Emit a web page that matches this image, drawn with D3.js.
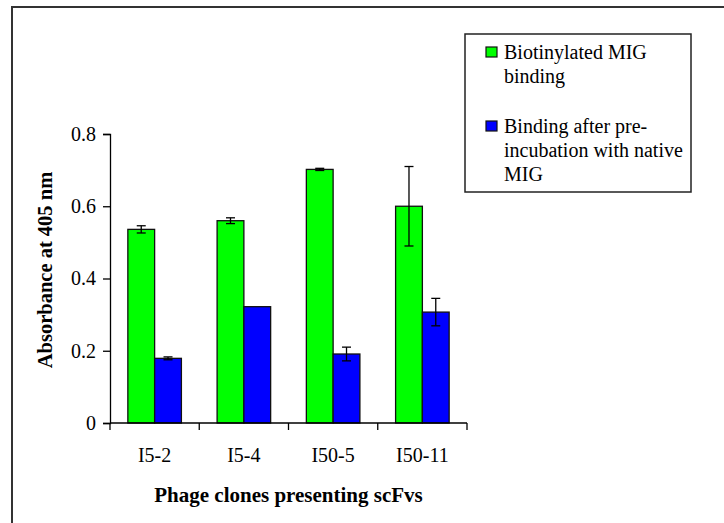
<!DOCTYPE html>
<html>
<head>
<meta charset="utf-8">
<script src="https://cdn.jsdelivr.net/npm/d3@7"></script>
<style>
html,body{margin:0;padding:0;background:#fff;}
svg{display:block;}
svg text{font-family:"Liberation Serif","Times New Roman",serif;}
</style>
</head>
<body>
<svg id="chart" width="724" height="523"></svg>
<script>
const categories = ["I5-2", "I5-4", "I50-5", "I50-11"];
const seriesNames = ["Biotinylated MIG binding", "Binding after pre-incubation with native MIG"];
const greenValues = [0.536, 0.560, 0.702, 0.600];
const greenErrors = [0.010, 0.008, 0.003, 0.110];
const blueValues = [0.179, 0.322, 0.191, 0.307];
const blueErrors = [0.004, 0.000, 0.019, 0.038];
const yTicks = [0, 0.2, 0.4, 0.6, 0.8];
const yTickLabels = ["0", "0.2", "0.4", "0.6", "0.8"];
const legendLines = [["Biotinylated MIG", "binding"], ["Binding after pre-", "incubation with native", "MIG"]];
const colors = ["#00ff00", "#0000ff"];

const svg = d3.select("#chart");
const font = '"Liberation Serif", "Times New Roman", serif';

// outer frame (top and left only visible)
svg.append("path").attr("d", "M12,530 L12,7 L730,7")
  .attr("fill", "none").attr("stroke", "#333").attr("stroke-width", 2);

const x0 = d3.scaleBand().domain(categories).range([110, 467]).paddingInner(0.4).paddingOuter(0.2);
const x1 = d3.scaleBand().domain([0, 1]).range([0, x0.bandwidth()]);
const y = d3.scaleLinear().domain([0, 0.8]).range([423, 134]);

const data = categories.map((c, i) => ({
  cat: c,
  vals: [
    {s: 0, v: greenValues[i], e: greenErrors[i]},
    {s: 1, v: blueValues[i], e: blueErrors[i]}
  ]
}));

const g = svg.append("g");
const groups = g.selectAll("g.grp").data(data).join("g")
  .attr("transform", d => `translate(${x0(d.cat)},0)`);

groups.selectAll("rect").data(d => d.vals).join("rect")
  .attr("x", d => x1(d.s))
  .attr("y", d => y(d.v))
  .attr("width", x1.bandwidth())
  .attr("height", d => y(0) - y(d.v))
  .attr("fill", d => colors[d.s])
  .attr("stroke", "#111")
  .attr("stroke-width", 1.3);

// error bars
groups.selectAll("g.err").data(d => d.vals.filter(v => v.e > 0)).join("g")
  .each(function(d) {
    const cx = x1(d.s) + x1.bandwidth() / 2;
    const gg = d3.select(this);
    const yt = y(d.v + d.e), yb = y(d.v - d.e);
    gg.append("line").attr("x1", cx).attr("x2", cx).attr("y1", yt).attr("y2", yb)
      .attr("stroke", "#000").attr("stroke-width", 1.3);
    [yt, yb].forEach(yy => gg.append("line").attr("x1", cx - 4.5).attr("x2", cx + 4.5)
      .attr("y1", yy).attr("y2", yy).attr("stroke", "#000").attr("stroke-width", 1.3));
  });

// Y axis
const yAxis = d3.axisLeft(y).tickValues(yTicks).tickFormat((d, i) => yTickLabels[i]).tickSizeOuter(0).tickSize(7).tickPadding(7);
const ya = svg.append("g").attr("transform", "translate(110,0)").call(yAxis);
ya.attr("font-family", null).attr("font-size", null);
ya.select(".domain").attr("stroke", "#000").attr("stroke-width", 1.3);
ya.selectAll(".tick line").attr("stroke", "#000").attr("stroke-width", 1.3);
ya.selectAll(".tick text").style("font-family", font).style("font-size", "20px").attr("fill", "#000");

// X axis line with boundary ticks
const xTickPos = categories.map(c => x0(c) - x0.step() * x0.paddingInner() / 2);
xTickPos.push(467);
svg.append("line").attr("x1", 110).attr("x2", 467).attr("y1", y(0)).attr("y2", y(0))
  .attr("stroke", "#000").attr("stroke-width", 1.3);
svg.selectAll("line.xt").data(xTickPos).join("line").attr("class", "xt")
  .attr("x1", d => d).attr("x2", d => d).attr("y1", y(0)).attr("y2", y(0) + 7)
  .attr("stroke", "#000").attr("stroke-width", 1.3);
svg.selectAll("text.xl").data(categories).join("text").attr("class", "xl")
  .attr("x", d => x0(d) + x0.bandwidth() / 2).attr("y", 462)
  .attr("text-anchor", "middle").style("font-family", font).style("font-size", "20px").attr("fill", "#000")
  .text(d => d);

// axis titles
svg.append("text").attr("x", 288.5).attr("y", 502).attr("text-anchor", "middle")
  .style("font-family", font).style("font-size", "21px").attr("font-weight", "bold").attr("fill", "#000")
  .text("Phage clones presenting scFvs");
svg.append("text").attr("transform", "translate(52,270) rotate(-90)").attr("text-anchor", "middle")
  .style("font-family", font).style("font-size", "20.5px").attr("font-weight", "bold").attr("fill", "#000")
  .text("Absorbance at 405 nm");

// legend
const lg = svg.append("g");
lg.append("rect").attr("x", 465).attr("y", 34).attr("width", 226).attr("height", 158)
  .attr("fill", "#fff").attr("stroke", "#222").attr("stroke-width", 1.5);
const legendBase = [[59, 83], [133, 157, 181]];
legendLines.forEach((lines, i) => {
  lg.append("rect").attr("x", 486).attr("y", legendBase[i][0] - 12).attr("width", 11).attr("height", 10)
    .attr("fill", colors[i]).attr("stroke", "#111").attr("stroke-width", 1.2);
  lines.forEach((t, j) => {
    lg.append("text").attr("x", 504).attr("y", legendBase[i][j])
      .style("font-family", font).style("font-size", "20px").attr("fill", "#000").text(t);
  });
});
</script>
</body>
</html>
